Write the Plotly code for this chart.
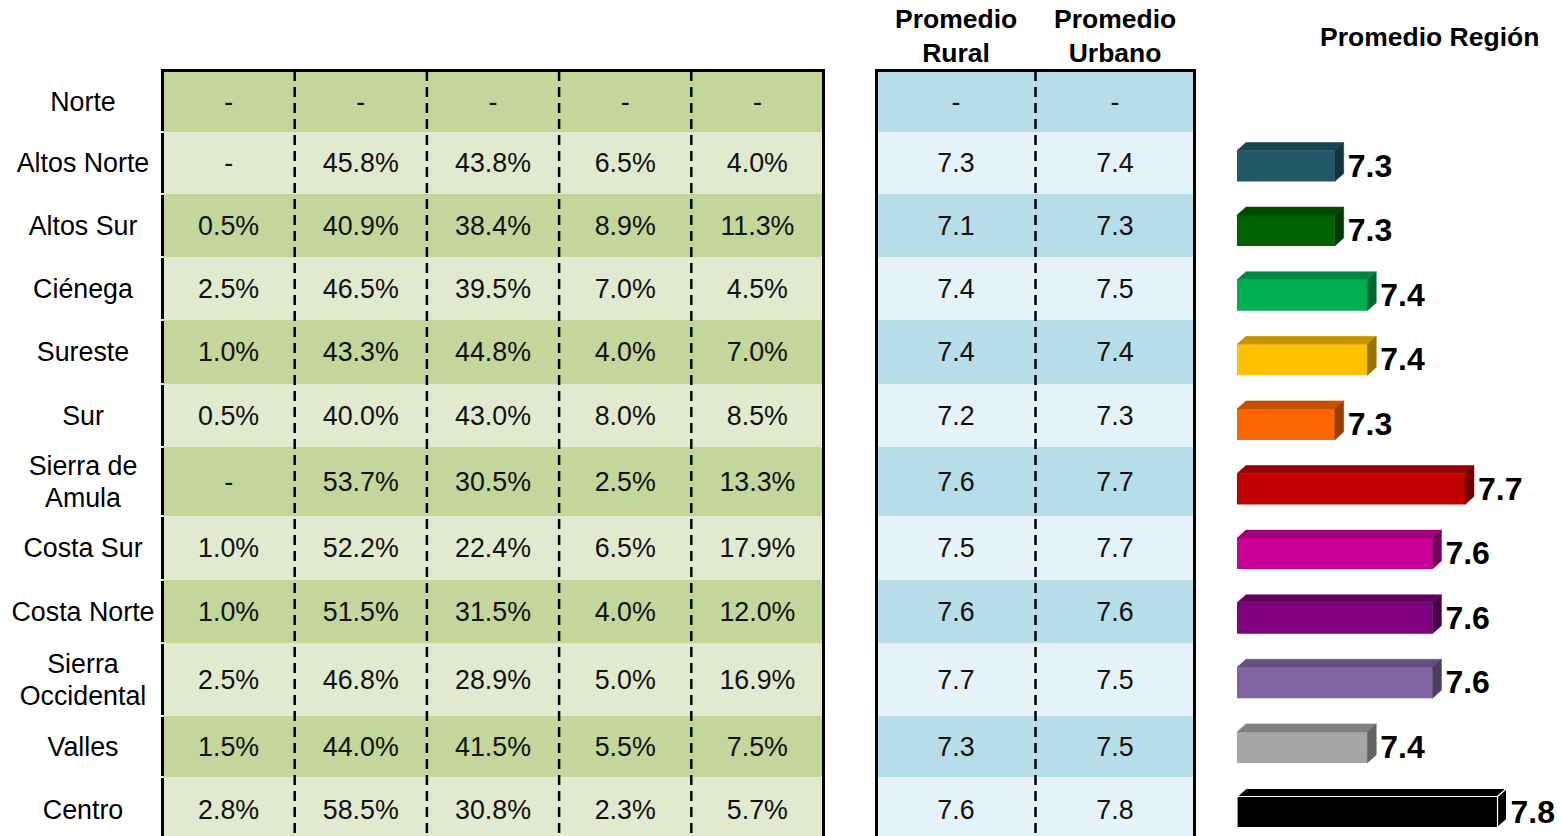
import plotly.graph_objects as go

# ---------------- data ----------------
regions = ["Norte", "Altos Norte", "Altos Sur", "Ciénega", "Sureste", "Sur",
           "Sierra de Amula", "Costa Sur", "Costa Norte", "Sierra Occidental",
           "Valles", "Centro"]
region_labels = ["Norte", "Altos Norte", "Altos Sur", "Ciénega", "Sureste", "Sur",
                 "Sierra de<br>Amula", "Costa Sur", "Costa Norte", "Sierra<br>Occidental",
                 "Valles", "Centro"]
col_1 = [None, None, 0.5, 2.5, 1.0, 0.5, None, 1.0, 1.0, 2.5, 1.5, 2.8]
col_2 = [None, 45.8, 40.9, 46.5, 43.3, 40.0, 53.7, 52.2, 51.5, 46.8, 44.0, 58.5]
col_3 = [None, 43.8, 38.4, 39.5, 44.8, 43.0, 30.5, 22.4, 31.5, 28.9, 41.5, 30.8]
col_4 = [None, 6.5, 8.9, 7.0, 4.0, 8.0, 2.5, 6.5, 4.0, 5.0, 5.5, 2.3]
col_5 = [None, 4.0, 11.3, 4.5, 7.0, 8.5, 13.3, 17.9, 12.0, 16.9, 7.5, 5.7]
promedio_rural = [None, 7.3, 7.1, 7.4, 7.4, 7.2, 7.6, 7.5, 7.6, 7.7, 7.3, 7.6]
promedio_urbano = [None, 7.4, 7.3, 7.5, 7.4, 7.3, 7.7, 7.7, 7.6, 7.5, 7.5, 7.8]
promedio_region = [None, 7.3, 7.3, 7.4, 7.4, 7.3, 7.7, 7.6, 7.6, 7.6, 7.4, 7.8]
bar_colors = [None, "#215968", "#006100", "#00B050", "#FFC000", "#FF6600", "#C00000",
              "#CC0099", "#800080", "#8064A2", "#A6A6A6", "#000000"]
header_rural = "Promedio<br>Rural"
header_urbano = "Promedio<br>Urbano"
header_region = "Promedio Región"

# ---------------- style / layout ----------------
W, H = 1561, 836
FONT = "Liberation Sans, Arial, Helvetica, sans-serif"
TXT = 26.8
HDR = 26.5
LINE_GAP = 32
TEXT_DY = 2.5
ROW_TOP = 71
row_heights = [61, 62, 63, 63, 64, 63, 69, 64, 63, 73, 61, 65]
GREEN_EDGES = [162.5 + 132.2 * k for k in range(6)]
BLUE_EDGES = [876.5, 1035.5, 1194.5]
GREEN_DARK, GREEN_LIGHT = "#C3D69B", "#E1EACF"
BLUE_DARK, BLUE_LIGHT = "#B7DDE8", "#E5F3F9"
LABEL_X = 83
AXIS_MIN = 7.0
PX_PER_UNIT = 325.7
BAR_DOMAIN_X0 = 1237
BAR_ROW0_Y, BAR_STEP = 101.4, 64.6
BAR_W = 0.48
DEPTH_X_PX, DEPTH_Y_PX = 9, 8
LABEL_GAP_PX = 4
LABEL_DY_PX = 2.5

row_edges = [ROW_TOP]
for h in row_heights:
    row_edges.append(row_edges[-1] + h)
row_centers = [(row_edges[i] + row_edges[i + 1]) / 2 for i in range(len(row_heights))]
n = len(regions)


def fmt_pct(v):
    return "-" if v is None else f"{v:.1f}%"


def fmt_num(v):
    return "-" if v is None else f"{v:.1f}"


def shade(hex_color, f):
    hex_color = hex_color.lstrip("#")
    r, g, b = (int(hex_color[i:i + 2], 16) for i in (0, 2, 4))
    return f"rgb({int(r * f)},{int(g * f)},{int(b * f)})"


fig = go.Figure()

# table backgrounds (heatmaps with brick edges)
parity = [[i % 2] * 5 for i in range(n)]
fig.add_trace(go.Heatmap(x=GREEN_EDGES, y=row_edges, z=parity, zmin=0, zmax=1,
                         colorscale=[[0, GREEN_DARK], [0.5, GREEN_DARK], [0.5, GREEN_LIGHT], [1, GREEN_LIGHT]],
                         showscale=False, hoverinfo="skip"))
parity2 = [[i % 2] * 2 for i in range(n)]
fig.add_trace(go.Heatmap(x=BLUE_EDGES, y=row_edges, z=parity2, zmin=0, zmax=1,
                         colorscale=[[0, BLUE_DARK], [0.5, BLUE_DARK], [0.5, BLUE_LIGHT], [1, BLUE_LIGHT]],
                         showscale=False, hoverinfo="skip"))

# region labels (multi-line labels placed line by line for tighter spacing)
lx, ly, lt = [], [], []
for lab, yc in zip(region_labels, row_centers):
    parts = lab.split("<br>")
    for j, p in enumerate(parts):
        lx.append(LABEL_X)
        ly.append(yc + TEXT_DY + (j - (len(parts) - 1) / 2) * LINE_GAP)
        lt.append(p)
fig.add_trace(go.Scatter(x=lx, y=ly, text=lt, mode="text",
                         textfont=dict(family=FONT, size=TXT, color="#000"), hoverinfo="skip"))

text_y = [yc + TEXT_DY for yc in row_centers]
# green table text
for k, col in enumerate([col_1, col_2, col_3, col_4, col_5]):
    cx = (GREEN_EDGES[k] + GREEN_EDGES[k + 1]) / 2
    fig.add_trace(go.Scatter(x=[cx] * n, y=text_y, text=[fmt_pct(v) for v in col],
                             mode="text", textfont=dict(family=FONT, size=TXT, color="#111"),
                             hoverinfo="skip"))
# blue table text
for k, col in enumerate([promedio_rural, promedio_urbano]):
    cx = (BLUE_EDGES[k] + BLUE_EDGES[k + 1]) / 2
    fig.add_trace(go.Scatter(x=[cx] * n, y=text_y, text=[fmt_num(v) for v in col],
                             mode="text", textfont=dict(family=FONT, size=TXT, color="#111"),
                             hoverinfo="skip"))

shapes = []
# dashed dividers
for xe in GREEN_EDGES[1:-1] + BLUE_EDGES[1:-1]:
    shapes.append(dict(type="line", xref="x", yref="y", x0=xe, x1=xe, y0=ROW_TOP, y1=H + 20,
                       line=dict(color="#000", width=2.5, dash="10px,6px")))
# borders
for left, right in [(GREEN_EDGES[0], GREEN_EDGES[-1]), (BLUE_EDGES[0], BLUE_EDGES[-1])]:
    shapes.append(dict(type="line", xref="x", yref="y", x0=left - 1.5, x1=right + 1.5,
                       y0=ROW_TOP - 0.5, y1=ROW_TOP - 0.5, line=dict(color="#000", width=3)))
    shapes.append(dict(type="line", xref="x", yref="y", x0=right, x1=right,
                       y0=ROW_TOP - 2, y1=H + 20, line=dict(color="#000", width=3)))
shapes.append(dict(type="line", xref="x", yref="y", x0=BLUE_EDGES[0], x1=BLUE_EDGES[0],
                   y0=ROW_TOP - 2, y1=H + 20, line=dict(color="#000", width=3)))
for i in range(n):
    shapes.append(dict(type="line", xref="x", yref="y", x0=GREEN_EDGES[0], x1=GREEN_EDGES[0],
                       y0=row_edges[i] + (-2 if i == 0 else 1), y1=row_edges[i + 1] - 1,
                       line=dict(color="#000", width=3)))

# ---------------- 3D bars ----------------
dx = DEPTH_X_PX / PX_PER_UNIT
dy = DEPTH_Y_PX / BAR_STEP
gap = LABEL_GAP_PX / PX_PER_UNIT
ldy = LABEL_DY_PX / BAR_STEP
for i, (v, c) in enumerate(zip(promedio_region, bar_colors)):
    if v is None:
        continue
    edge = "#FFFFFF" if c == "#000000" else None
    top_c = shade(c, 0.78)
    side_c = shade(c, 0.6)
    y_top = i - BAR_W / 2
    y_bot = i + BAR_W / 2
    fig.add_trace(go.Bar(orientation="h", y=[i], x=[v - AXIS_MIN], base=AXIS_MIN, width=BAR_W,
                         marker=dict(color=c, line=dict(color=edge or c, width=1.2 if edge else 0)),
                         xaxis="x2", yaxis="y2", hoverinfo="skip"))
    fig.add_trace(go.Scatter(x=[AXIS_MIN, v, v + dx, AXIS_MIN + dx, AXIS_MIN],
                             y=[y_top, y_top, y_top - dy, y_top - dy, y_top],
                             fill="toself", fillcolor=top_c, mode="lines",
                             line=dict(color=edge or top_c, width=1.2 if edge else 0.5),
                             xaxis="x2", yaxis="y2", hoverinfo="skip"))
    fig.add_trace(go.Scatter(x=[v, v + dx, v + dx, v, v],
                             y=[y_top, y_top - dy, y_bot - dy, y_bot, y_top],
                             fill="toself", fillcolor=side_c, mode="lines",
                             line=dict(color=edge or side_c, width=1.2 if edge else 0.5),
                             xaxis="x2", yaxis="y2", hoverinfo="skip"))
    fig.add_trace(go.Scatter(x=[v + dx + gap], y=[i + ldy], text=[f"{v:.1f}"], mode="text",
                             textposition="middle right",
                             textfont=dict(family=FONT, size=32, color="#000", weight="bold"),
                             xaxis="x2", yaxis="y2", hoverinfo="skip", cliponaxis=False))

annotations = [
    dict(x=(BLUE_EDGES[0] + BLUE_EDGES[1]) / 2, y=36, xref="x", yref="y", text=f"<b>{header_rural}</b>",
         showarrow=False, font=dict(family=FONT, size=HDR, color="#000")),
    dict(x=(BLUE_EDGES[1] + BLUE_EDGES[2]) / 2, y=36, xref="x", yref="y", text=f"<b>{header_urbano}</b>",
         showarrow=False, font=dict(family=FONT, size=HDR, color="#000")),
    dict(x=1429, y=37, xref="x", yref="y", text=f"<b>{header_region}</b>",
         showarrow=False, font=dict(family=FONT, size=HDR, color="#000")),
]

y2_top = -BAR_ROW0_Y / BAR_STEP
y2_bot = (H - BAR_ROW0_Y) / BAR_STEP
x2_max = AXIS_MIN + (W - BAR_DOMAIN_X0) / PX_PER_UNIT

fig.update_layout(
    width=W, height=H, margin=dict(l=0, r=0, t=0, b=0),
    paper_bgcolor="white", plot_bgcolor="rgba(0,0,0,0)",
    showlegend=False, shapes=shapes, annotations=annotations,
    xaxis=dict(range=[0, W], domain=[0, 1], visible=False, fixedrange=True),
    yaxis=dict(range=[H, 0], domain=[0, 1], visible=False, fixedrange=True),
    xaxis2=dict(range=[AXIS_MIN, x2_max], domain=[BAR_DOMAIN_X0 / W, 1], anchor="y2",
                visible=False, fixedrange=True),
    yaxis2=dict(range=[y2_bot, y2_top], domain=[0, 1], anchor="x2", visible=False, fixedrange=True),
    barmode="overlay",
)

fig.write_html("out.html", config={"displayModeBar": False},
               post_script="document.body.style.margin='0';document.body.style.overflow='hidden';")
